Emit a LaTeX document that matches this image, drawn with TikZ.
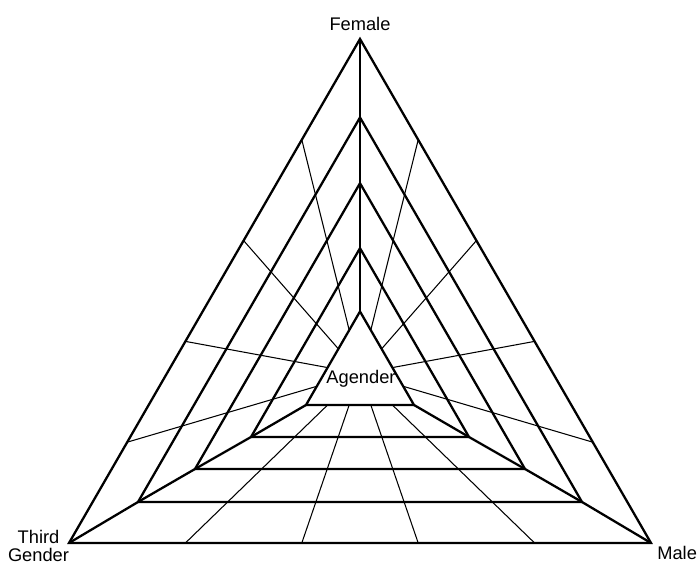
\documentclass[tikz,border=0pt]{standalone}
\usepackage{fontspec}
\setmainfont{Liberation Sans}
\usetikzlibrary{calc}
\tikzset{
  tri/.style ={draw=black,line width=1.3pt},
  spk/.style ={draw=black,line width=.6pt},
  lbl/.style ={font=\fontsize{10.4}{10}\selectfont,inner sep=0pt,text=black},
}
\begin{document}
\begin{tikzpicture}[x=0.02cm,y=-0.02cm]
\useasboundingbox (0,0) rectangle (700,563);
% ===== corners of the five nested triangles =====
\foreach \i/\yb/\hw in {0/543/291,1/502/222,2/469/165,3/437/109,4/405/54}{
  \coordinate (l\i) at (360-\hw,\yb);
  \coordinate (r\i) at (360+\hw,\yb);
  \coordinate (t\i) at (360,\yb-1.7321*\hw);
}

% ===== thin spokes, inner edge -> outer edge =====
\foreach \a/\b in {l/r,r/t,t/l}
  \foreach \k in {1,...,4}
    \draw[spk] ($(\a4)!\k/5!(\b4)$) -- ($(\a0)!\k/5!(\b0)$);

% ===== thick triangles + corner lines =====
\foreach \i in {0,...,4}
  \draw[tri] (t\i) -- (l\i) -- (r\i) -- cycle;
\draw[tri] (t0) -- (t4);
\draw[tri] (l0) -- (l1) -- (l2) -- (l3) -- (l4);
\draw[tri] (r0) -- (r1) -- (r2) -- (r3) -- (r4);

% ===== labels =====
\node[lbl,anchor=base] (female) at (360,31) {Female};
\node[lbl,anchor=base] (agender) at (361,384) {Agender};
\node[lbl,anchor=base west] (male) at (657,560) {Male};
\node[lbl,align=center,anchor=north] (third) at (38.5,530) {Third\\Gender};
\end{tikzpicture}
\end{document}
